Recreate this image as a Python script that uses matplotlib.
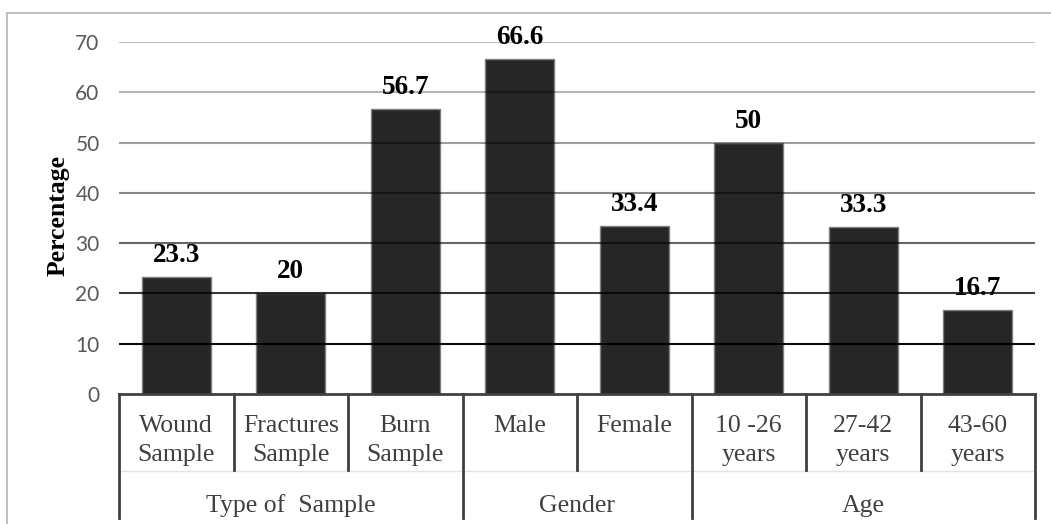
import matplotlib
matplotlib.use("Agg")
import matplotlib.pyplot as plt
import matplotlib.transforms as mtransforms
from matplotlib.patches import Rectangle

# percentages per category
labels = ["Wound\nSample", "Fractures\nSample", "Burn\nSample", "Male", "Female",
          "10 -26\nyears", "27-42\nyears", "43-60\nyears"]
values = [23.3, 20, 56.7, 66.6, 33.4, 50, 33.3, 16.7]
value_text = ["23.3", "20", "56.7", "66.6", "33.4", "50", "33.3", "16.7"]
groups = ["Type of  Sample", "Gender", "Age"]
group_sizes = [3, 2, 3]
yticks = [0, 10, 20, 30, 40, 50, 60, 70]

serif = "Liberation Serif"
W, H = 1051, 524
fig = plt.figure(figsize=(W / 100, H / 100), dpi=100)

# light frame round the whole chart
fig.patches.append(Rectangle((7 / W, -0.1), 1.2, 1 - 13 / H + 0.1, transform=fig.transFigure,
                             fill=False, edgecolor="#c0c0c0", linewidth=1.5))

ax = fig.add_axes([119 / W, 1 - 394 / H, 916 / W, 352 / H])
n = len(values)
x = list(range(n))
ax.set_xlim(-0.5, n - 0.5)
ax.set_ylim(0, 70)

ax.bar(x, values, width=0.6, color="#262626", edgecolor="#808080", linewidth=1, zorder=2)

# gridlines get darker towards the bottom, drawn over the bars
grid_alpha = {10: 0.95, 20: 0.78, 30: 0.6, 40: 0.47, 50: 0.38, 60: 0.29, 70: 0.25}
for yv, a in grid_alpha.items():
    ax.axhline(yv, color="black", alpha=a, linewidth=1.5, zorder=3)

for xi, v, t in zip(x, values, value_text):
    ax.annotate(t, (xi, v), xytext=(0, 6.5), textcoords="offset points", ha="center", va="bottom",
                fontsize=19.5, fontweight="bold", family=serif, color="black", zorder=4)

for s in ax.spines.values():
    s.set_visible(False)
ax.set_xticks([])
ax.set_yticks(yticks)
ax.tick_params(axis="y", length=0, pad=14, labelsize=15, labelcolor="#595959")
for tl in ax.get_yticklabels():
    tl.set_family("Lato")

fig.text(58 / W, 1 - 216 / H, "Percentage", rotation=90, ha="center", va="center",
         fontsize=18.5, fontweight="bold", family=serif, color="black")

# category table under the axis
tr = mtransforms.blended_transform_factory(ax.transData, ax.transAxes)
px = lambda p: -(p - 394) / 352.0
line_kw = dict(color="#404040", linewidth=2, transform=tr, clip_on=False, zorder=5)
ax.plot([-0.5, n - 0.5], [0, 0], **line_kw)
ax.plot([-0.5, n - 0.5], [px(471), px(471)], color="#e4e4e4", linewidth=1, transform=tr,
        clip_on=False, zorder=1)

bounds = [-0.5]
for g in group_sizes:
    bounds.append(bounds[-1] + g)
for i in range(n + 1):
    b = i - 0.5
    bottom = px(518) if b in bounds else px(470)
    ax.plot([b, b], [0, bottom], **line_kw)

for xi, lab in zip(x, labels):
    ax.text(xi, px(415), lab, transform=tr, ha="center", va="top", fontsize=18.5,
            family=serif, color="#404040", linespacing=1.4)

start = -0.5
for g, gs in zip(groups, group_sizes):
    ax.text(start + gs / 2, px(506), g, transform=tr, ha="center", va="center",
            fontsize=18.5, family=serif, color="#404040")
    start += gs

fig.savefig("out.png", dpi=100)
